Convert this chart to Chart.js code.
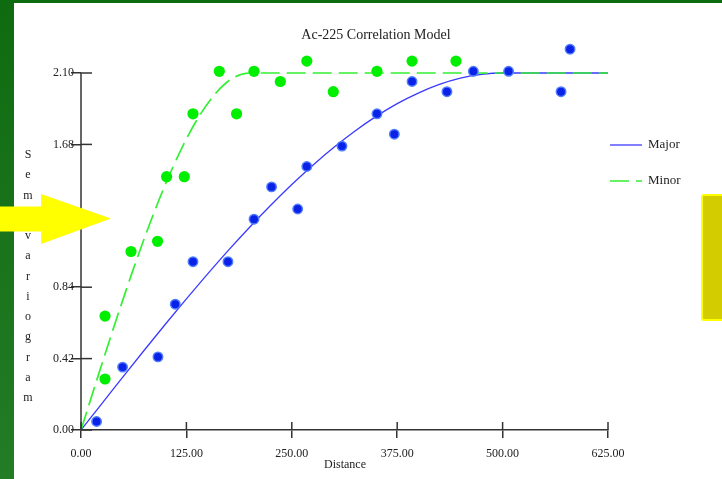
<!DOCTYPE html>
<html>
<head>
<meta charset="utf-8">
<script src="https://cdn.jsdelivr.net/npm/chart.js@4.4.1/dist/chart.umd.min.js"></script>
<style>
  html, body { margin: 0; padding: 0; background: #fff; }
  #wrap { position: relative; width: 722px; height: 479px; overflow: hidden; background: #fff; }
  #chart { position: absolute; left: 0; top: 0; }
  #frameLeft { position: absolute; left: 0; top: 0; width: 14px; height: 479px;
    background: linear-gradient(#0f6b10, #237c26); }
  #frameTop { position: absolute; left: 0; top: 0; width: 722px; height: 3px; background: #0f6b10; }
  #arrow { position: absolute; left: 0; top: 194px; width: 111px; height: 50px; background: #ffff00;
    clip-path: polygon(0 25%, 37% 25%, 37% 0, 100% 49%, 37% 100%, 37% 75%, 0 75%); }
  #box { position: absolute; left: 701px; top: 194px; width: 30px; height: 123px;
    background: #d3cc00; border: 2px solid #ffff00; border-radius: 3px 0 0 3px; }
</style>
</head>
<body>
<div id="wrap">
  <canvas id="chart" width="722" height="479"></canvas>
  <div id="frameLeft"></div>
  <div id="frameTop"></div>
  <div id="arrow"></div>
  <div id="box"></div>
</div>
<script>
const chartTitle = "Ac-225 Correlation Model";
const xTitle = "Distance";
const yTitle = "Semivariogram";
const seriesNames = ["Major", "Minor"];

const xTickValues = [0, 125, 250, 375, 500, 625];
const yTickValues = [0, 0.42, 0.84, 1.26, 1.68, 2.10];

// experimental points
const majorDist = [18.5, 49.3, 91.3, 111.8, 132.8, 174.3, 205.2, 226, 257, 267.8, 309.5, 351, 371.6, 392.6, 434, 465.3, 507.1, 569.3, 580];
const majorGamma = [0.05, 0.37, 0.43, 0.74, 0.99, 0.99, 1.24, 1.43, 1.30, 1.55, 1.67, 1.86, 1.74, 2.05, 1.99, 2.11, 2.11, 1.99, 2.24];
const minorDist = [28.5, 28.5, 59.3, 90.8, 101.5, 122.5, 132.8, 164, 184.5, 205.2, 236.4, 267.8, 299.2, 351, 392.6, 444.7];
const minorGamma = [0.30, 0.67, 1.05, 1.11, 1.49, 1.49, 1.86, 2.11, 1.86, 2.11, 2.05, 2.17, 1.99, 2.11, 2.17, 2.17];

// model curves
const majorModelDist = [0, 25, 50, 75, 100, 125, 150, 175, 200, 225, 250, 275, 300, 325, 350, 375, 400, 425, 450, 475, 500, 625];
const majorModelGamma = [0, 0.157, 0.314, 0.469, 0.622, 0.771, 0.917, 1.058, 1.193, 1.322, 1.444, 1.558, 1.663, 1.759, 1.845, 1.920, 1.982, 2.033, 2.070, 2.092, 2.10, 2.10];
const minorModelDist = [0, 20, 40, 60, 80, 100, 120, 140, 160, 180, 200, 625];
const minorModelGamma = [0, 0.314, 0.622, 0.917, 1.193, 1.444, 1.663, 1.845, 1.982, 2.070, 2.10, 2.10];

const toXY = (xs, ys) => xs.map((x, i) => ({ x: x, y: ys[i] }));

const serif = "'Liberation Serif', 'DejaVu Serif', serif";
const ink = "#222";
const axisColor = "#333";

const decor = {
    id: "decor",
    afterDraw(chart) {
        const ctx = chart.ctx;
        const area = chart.chartArea;
        const xs = chart.scales.x;
        const ys = chart.scales.y;
        ctx.save();
        ctx.strokeStyle = axisColor;
        ctx.lineWidth = 1.5;
        // y axis line, stops at the top tick
        ctx.beginPath();
        ctx.moveTo(area.left, ys.getPixelForValue(yTickValues[yTickValues.length - 1]));
        ctx.lineTo(area.left, area.bottom);
        ctx.stroke();
        // inner half of the crossing ticks
        ys.ticks.forEach(t => {
            const py = ys.getPixelForValue(t.value);
            ctx.beginPath();
            ctx.moveTo(area.left, py);
            ctx.lineTo(area.left + 11, py);
            ctx.stroke();
        });
        xs.ticks.forEach(t => {
            const px = xs.getPixelForValue(t.value);
            ctx.beginPath();
            ctx.moveTo(px, area.bottom);
            ctx.lineTo(px, area.bottom - 8);
            ctx.stroke();
        });

        ctx.fillStyle = ink;
        ctx.textAlign = "center";
        ctx.textBaseline = "middle";
        ctx.font = "14px " + serif;
        ctx.fillText(chartTitle, 376, 35);

        ctx.font = "12px " + serif;
        ctx.fillText(xTitle, 345, 465);

        yTitle.split("").forEach((ch, i) => {
            ctx.fillText(ch, 28, 155 + i * 20.25);
        });

        // legend
        const lines = [chart.data.datasets[3], chart.data.datasets[2]];
        ctx.font = "13px " + serif;
        ctx.textAlign = "left";
        lines.forEach((ds, i) => {
            const y = 145 + i * 36;
            ctx.strokeStyle = ds.borderColor;
            ctx.lineWidth = ds.borderWidth;
            ctx.setLineDash(ds.borderDash || []);
            ctx.beginPath();
            ctx.moveTo(610, y);
            ctx.lineTo(642, y);
            ctx.stroke();
            ctx.setLineDash([]);
            ctx.fillStyle = ink;
            ctx.fillText(seriesNames[i], 648, y);
        });
        ctx.restore();
    }
};

new Chart(document.getElementById("chart"), {
    type: "scatter",
    data: {
        datasets: [
            {
                label: "Major data",
                data: toXY(majorDist, majorGamma),
                backgroundColor: "#0a22e8",
                borderColor: "#4f7cff",
                borderWidth: 1.5,
                pointRadius: 4.7,
                clip: false
            },
            {
                label: "Minor data",
                data: toXY(minorDist, minorGamma),
                backgroundColor: "#00ee00",
                borderWidth: 0,
                pointRadius: 5.6,
                clip: false
            },
            {
                label: "Minor",
                data: toXY(minorModelDist, minorModelGamma),
                showLine: true,
                borderColor: "#33f033",
                borderWidth: 1.7,
                borderDash: [19, 7],
                pointRadius: 0,
                cubicInterpolationMode: "monotone"
            },
            {
                label: "Major",
                data: toXY(majorModelDist, majorModelGamma),
                showLine: true,
                borderColor: "#3a3aff",
                borderWidth: 1.3,
                pointRadius: 0,
                cubicInterpolationMode: "monotone"
            }
        ]
    },
    options: {
        responsive: false,
        animation: false,
        devicePixelRatio: 1,
        layout: { padding: { top: 39, right: 114, bottom: 0, left: 0 } },
        plugins: {
            legend: { display: false },
            title: { display: false },
            tooltip: { enabled: false }
        },
        scales: {
            x: {
                type: "linear",
                min: 0,
                max: 625,
                afterBuildTicks: s => { s.ticks = xTickValues.map(v => ({ value: v })); },
                afterFit: s => { s.height = 49; },
                ticks: {
                    color: ink,
                    font: { family: serif, size: 12 },
                    padding: 9,
                    maxRotation: 0,
                    callback: v => Number(v).toFixed(2)
                },
                grid: { drawOnChartArea: false, tickLength: 8, color: axisColor, lineWidth: 1.5 },
                border: { display: true, color: axisColor, width: 1.5 }
            },
            y: {
                type: "linear",
                min: 0,
                max: 2.3,
                afterBuildTicks: s => { s.ticks = yTickValues.map(v => ({ value: v })); },
                afterFit: s => { s.width = 81; },
                ticks: {
                    color: ink,
                    font: { family: serif, size: 12 },
                    padding: -3,
                    callback: v => Number(v).toFixed(2)
                },
                grid: { drawOnChartArea: false, tickLength: 10, color: axisColor, lineWidth: 1.5 },
                border: { display: false }
            }
        }
    },
    plugins: [decor]
});
</script>
</body>
</html>
